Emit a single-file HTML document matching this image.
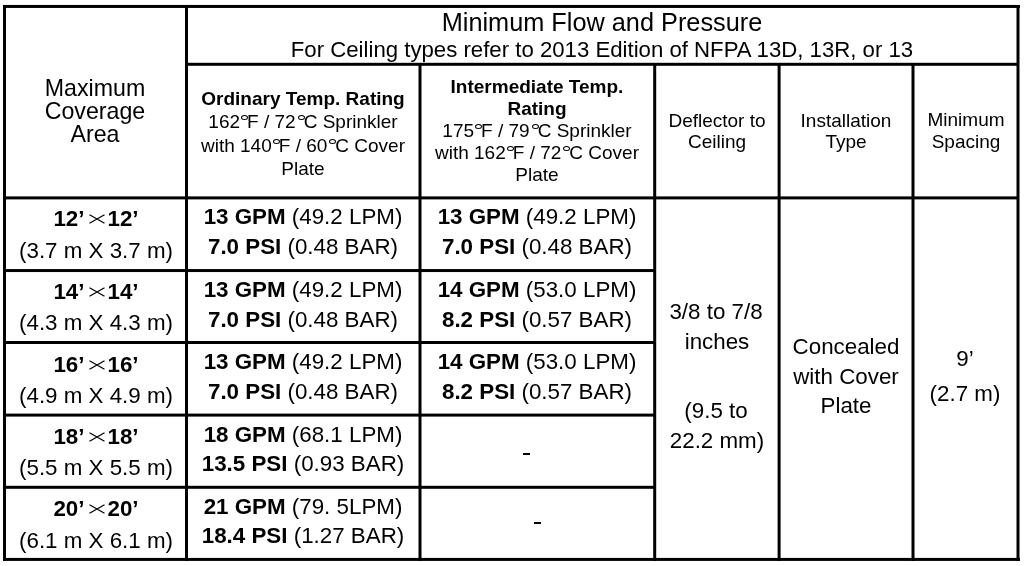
<!DOCTYPE html>
<html><head><meta charset="utf-8"><style>
html,body{margin:0;padding:0;background:#fff;}
body{width:1026px;height:566px;overflow:hidden;position:relative;font-family:"Liberation Sans",sans-serif;color:#000;}
.k{position:absolute;background:#000;}
.t{position:absolute;width:1000px;text-align:center;white-space:nowrap;line-height:1;will-change:transform;}
.t b{font-weight:700;}
.dg{display:inline-block;box-sizing:border-box;width:7px;height:5px;border:1.25px solid #000;border-radius:50%;vertical-align:8px;margin:0 -1px 0 1px;}
.dc{margin-left:2px;}
.x{display:inline-block;vertical-align:2px;margin:0 3px 0 4px;}
</style></head><body>
<div class="k" style="left:3px;top:5px;width:1px;height:556px;opacity:1.00"></div>
<div class="k" style="left:4px;top:5px;width:1px;height:556px;opacity:1.00"></div>
<div class="k" style="left:5px;top:5px;width:1px;height:556px;opacity:1.00"></div>
<div class="k" style="left:1016px;top:5px;width:1px;height:556px;opacity:0.50"></div>
<div class="k" style="left:1017px;top:5px;width:1px;height:556px;opacity:1.00"></div>
<div class="k" style="left:1018px;top:5px;width:1px;height:556px;opacity:1.00"></div>
<div class="k" style="left:1019px;top:5px;width:1px;height:556px;opacity:0.50"></div>
<div class="k" style="left:185px;top:5px;width:1px;height:556px;opacity:1.00"></div>
<div class="k" style="left:186px;top:5px;width:1px;height:556px;opacity:1.00"></div>
<div class="k" style="left:187px;top:5px;width:1px;height:556px;opacity:1.00"></div>
<div class="k" style="left:418px;top:64px;width:1px;height:497px;opacity:0.50"></div>
<div class="k" style="left:419px;top:64px;width:1px;height:497px;opacity:1.00"></div>
<div class="k" style="left:420px;top:64px;width:1px;height:497px;opacity:1.00"></div>
<div class="k" style="left:421px;top:64px;width:1px;height:497px;opacity:0.50"></div>
<div class="k" style="left:653px;top:64px;width:1px;height:497px;opacity:0.80"></div>
<div class="k" style="left:654px;top:64px;width:1px;height:497px;opacity:1.00"></div>
<div class="k" style="left:655px;top:64px;width:1px;height:497px;opacity:1.00"></div>
<div class="k" style="left:656px;top:64px;width:1px;height:497px;opacity:0.20"></div>
<div class="k" style="left:777px;top:64px;width:1px;height:497px;opacity:0.40"></div>
<div class="k" style="left:778px;top:64px;width:1px;height:497px;opacity:1.00"></div>
<div class="k" style="left:779px;top:64px;width:1px;height:497px;opacity:1.00"></div>
<div class="k" style="left:780px;top:64px;width:1px;height:497px;opacity:0.60"></div>
<div class="k" style="left:911px;top:64px;width:1px;height:497px;opacity:0.50"></div>
<div class="k" style="left:912px;top:64px;width:1px;height:497px;opacity:1.00"></div>
<div class="k" style="left:913px;top:64px;width:1px;height:497px;opacity:1.00"></div>
<div class="k" style="left:914px;top:64px;width:1px;height:497px;opacity:0.50"></div>
<div class="k" style="left:3px;top:4px;width:1017px;height:1px;opacity:0.05"></div>
<div class="k" style="left:3px;top:5px;width:1017px;height:1px;opacity:1.00"></div>
<div class="k" style="left:3px;top:6px;width:1017px;height:1px;opacity:1.00"></div>
<div class="k" style="left:3px;top:7px;width:1017px;height:1px;opacity:0.95"></div>
<div class="k" style="left:3px;top:557px;width:1017px;height:1px;opacity:0.08"></div>
<div class="k" style="left:3px;top:558px;width:1017px;height:1px;opacity:1.00"></div>
<div class="k" style="left:3px;top:559px;width:1017px;height:1px;opacity:1.00"></div>
<div class="k" style="left:3px;top:560px;width:1017px;height:1px;opacity:0.92"></div>
<div class="k" style="left:186px;top:62px;width:832px;height:1px;opacity:0.20"></div>
<div class="k" style="left:186px;top:63px;width:832px;height:1px;opacity:1.00"></div>
<div class="k" style="left:186px;top:64px;width:832px;height:1px;opacity:1.00"></div>
<div class="k" style="left:186px;top:65px;width:832px;height:1px;opacity:0.80"></div>
<div class="k" style="left:4px;top:196px;width:1014px;height:1px;opacity:0.60"></div>
<div class="k" style="left:4px;top:197px;width:1014px;height:1px;opacity:1.00"></div>
<div class="k" style="left:4px;top:198px;width:1014px;height:1px;opacity:1.00"></div>
<div class="k" style="left:4px;top:199px;width:1014px;height:1px;opacity:0.40"></div>
<div class="k" style="left:4px;top:269px;width:651px;height:1px;opacity:0.95"></div>
<div class="k" style="left:4px;top:270px;width:651px;height:1px;opacity:1.00"></div>
<div class="k" style="left:4px;top:271px;width:651px;height:1px;opacity:1.00"></div>
<div class="k" style="left:4px;top:272px;width:651px;height:1px;opacity:0.05"></div>
<div class="k" style="left:4px;top:341px;width:651px;height:1px;opacity:1.00"></div>
<div class="k" style="left:4px;top:342px;width:651px;height:1px;opacity:1.00"></div>
<div class="k" style="left:4px;top:343px;width:651px;height:1px;opacity:1.00"></div>
<div class="k" style="left:4px;top:413px;width:651px;height:1px;opacity:0.40"></div>
<div class="k" style="left:4px;top:414px;width:651px;height:1px;opacity:1.00"></div>
<div class="k" style="left:4px;top:415px;width:651px;height:1px;opacity:1.00"></div>
<div class="k" style="left:4px;top:416px;width:651px;height:1px;opacity:0.60"></div>
<div class="k" style="left:4px;top:485px;width:651px;height:1px;opacity:0.20"></div>
<div class="k" style="left:4px;top:486px;width:651px;height:1px;opacity:1.00"></div>
<div class="k" style="left:4px;top:487px;width:651px;height:1px;opacity:1.00"></div>
<div class="k" style="left:4px;top:488px;width:651px;height:1px;opacity:0.80"></div>
<div class="t" style="left:101.5px;top:9.600000000000001px;font-size:25.3px;font-weight:400">Minimum Flow and Pressure</div>
<div class="t" style="left:101.70000000000005px;top:38.8px;font-size:22.2px;font-weight:400">For Ceiling types refer to 2013 Edition of NFPA 13D, 13R, or 13</div>
<div class="t" style="left:-404.8px;top:76.76px;font-size:23.2px;font-weight:400">Maximum</div>
<div class="t" style="left:-404.8px;top:99.75px;font-size:23.2px;font-weight:400">Coverage</div>
<div class="t" style="left:-404.8px;top:123.30000000000001px;font-size:23.2px;font-weight:400">Area</div>
<div class="t" style="left:-197px;top:88.5px;font-size:19px;font-weight:700">Ordinary Temp. Rating</div>
<div class="t" style="left:-197.0px;top:112.30000000000001px;font-size:19px;font-weight:400">162<span class="dg"></span>F / 72<span class="dg dc"></span>C Sprinkler</div>
<div class="t" style="left:-196.8px;top:135.6px;font-size:19px;font-weight:400">with 140<span class="dg"></span>F / 60<span class="dg dc"></span>C Cover</div>
<div class="t" style="left:-196.89999999999998px;top:158.9px;font-size:19px;font-weight:400">Plate</div>
<div class="t" style="left:37.10000000000002px;top:76.7px;font-size:19px;font-weight:700">Intermediate Temp.</div>
<div class="t" style="left:37.10000000000002px;top:98.5px;font-size:19px;font-weight:700">Rating</div>
<div class="t" style="left:36.799999999999955px;top:121.4px;font-size:19px;font-weight:400">175<span class="dg"></span>F / 79<span class="dg dc"></span>C Sprinkler</div>
<div class="t" style="left:37.299999999999955px;top:142.6px;font-size:19px;font-weight:400">with 162<span class="dg"></span>F / 72<span class="dg dc"></span>C Cover</div>
<div class="t" style="left:37.10000000000002px;top:164.8px;font-size:19px;font-weight:400">Plate</div>
<div class="t" style="left:217px;top:110.6px;font-size:19px;font-weight:400">Deflector to</div>
<div class="t" style="left:217px;top:131.7px;font-size:19px;font-weight:400">Ceiling</div>
<div class="t" style="left:346px;top:110.6px;font-size:19px;font-weight:400">Installation</div>
<div class="t" style="left:346px;top:131.7px;font-size:19px;font-weight:400">Type</div>
<div class="t" style="left:465.5px;top:110.4px;font-size:19px;font-weight:400">Minimum</div>
<div class="t" style="left:465.5px;top:131.6px;font-size:19px;font-weight:400">Spacing</div>
<div class="t" style="left:-403.9px;top:208px;font-size:22.35px;font-weight:400"><b>12’</b><svg class="x" width="16" height="10" viewBox="0 0 16 10"><path d="M0.5 0.8 L15.5 9.2 M0.5 9.2 L15.5 0.8" stroke="#000" stroke-width="1.25" fill="none"/></svg><b>12’</b></div>
<div class="t" style="left:-404.25px;top:239.5px;font-size:22.35px;font-weight:400">(3.7 m X 3.7 m)</div>
<div class="t" style="left:-403.9px;top:281.2px;font-size:22.35px;font-weight:400"><b>14’</b><svg class="x" width="16" height="10" viewBox="0 0 16 10"><path d="M0.5 0.8 L15.5 9.2 M0.5 9.2 L15.5 0.8" stroke="#000" stroke-width="1.25" fill="none"/></svg><b>14’</b></div>
<div class="t" style="left:-404.25px;top:312.1px;font-size:22.35px;font-weight:400">(4.3 m X 4.3 m)</div>
<div class="t" style="left:-403.9px;top:353.8px;font-size:22.35px;font-weight:400"><b>16’</b><svg class="x" width="16" height="10" viewBox="0 0 16 10"><path d="M0.5 0.8 L15.5 9.2 M0.5 9.2 L15.5 0.8" stroke="#000" stroke-width="1.25" fill="none"/></svg><b>16’</b></div>
<div class="t" style="left:-404.25px;top:384.7px;font-size:22.35px;font-weight:400">(4.9 m X 4.9 m)</div>
<div class="t" style="left:-403.9px;top:425.8px;font-size:22.35px;font-weight:400"><b>18’</b><svg class="x" width="16" height="10" viewBox="0 0 16 10"><path d="M0.5 0.8 L15.5 9.2 M0.5 9.2 L15.5 0.8" stroke="#000" stroke-width="1.25" fill="none"/></svg><b>18’</b></div>
<div class="t" style="left:-404.25px;top:456.7px;font-size:22.35px;font-weight:400">(5.5 m X 5.5 m)</div>
<div class="t" style="left:-403.9px;top:498.20000000000005px;font-size:22.35px;font-weight:400"><b>20’</b><svg class="x" width="16" height="10" viewBox="0 0 16 10"><path d="M0.5 0.8 L15.5 9.2 M0.5 9.2 L15.5 0.8" stroke="#000" stroke-width="1.25" fill="none"/></svg><b>20’</b></div>
<div class="t" style="left:-404.25px;top:529.6px;font-size:22.35px;font-weight:400">(6.1 m X 6.1 m)</div>
<div class="t" style="left:-196.7px;top:206.1px;font-size:22.35px;font-weight:400"><b>13 GPM</b> (49.2 LPM)</div>
<div class="t" style="left:-196.7px;top:235.7px;font-size:22.35px;font-weight:400"><b>7.0 PSI</b> (0.48 BAR)</div>
<div class="t" style="left:-196.7px;top:278.75px;font-size:22.35px;font-weight:400"><b>13 GPM</b> (49.2 LPM)</div>
<div class="t" style="left:-196.7px;top:308.5px;font-size:22.35px;font-weight:400"><b>7.0 PSI</b> (0.48 BAR)</div>
<div class="t" style="left:-196.7px;top:351.4px;font-size:22.35px;font-weight:400"><b>13 GPM</b> (49.2 LPM)</div>
<div class="t" style="left:-196.7px;top:380.7px;font-size:22.35px;font-weight:400"><b>7.0 PSI</b> (0.48 BAR)</div>
<div class="t" style="left:-196.7px;top:424px;font-size:22.35px;font-weight:400"><b>18 GPM</b> (68.1 LPM)</div>
<div class="t" style="left:-196.7px;top:453.1px;font-size:22.35px;font-weight:400"><b>13.5 PSI</b> (0.93 BAR)</div>
<div class="t" style="left:-196.7px;top:496.20000000000005px;font-size:22.35px;font-weight:400"><b>21 GPM</b> (79. 5LPM)</div>
<div class="t" style="left:-196.7px;top:524.8px;font-size:22.35px;font-weight:400"><b>18.4 PSI</b> (1.27 BAR)</div>
<div class="t" style="left:37.200000000000045px;top:206.1px;font-size:22.35px;font-weight:400"><b>13 GPM</b> (49.2 LPM)</div>
<div class="t" style="left:36.89999999999998px;top:235.8px;font-size:22.35px;font-weight:400"><b>7.0 PSI</b> (0.48 BAR)</div>
<div class="t" style="left:37.200000000000045px;top:278.75px;font-size:22.35px;font-weight:400"><b>14 GPM</b> (53.0 LPM)</div>
<div class="t" style="left:36.89999999999998px;top:308.5px;font-size:22.35px;font-weight:400"><b>8.2 PSI</b> (0.57 BAR)</div>
<div class="t" style="left:37.200000000000045px;top:350.75px;font-size:22.35px;font-weight:400"><b>14 GPM</b> (53.0 LPM)</div>
<div class="t" style="left:36.89999999999998px;top:380.5px;font-size:22.35px;font-weight:400"><b>8.2 PSI</b> (0.57 BAR)</div>
<div class="k" style="left:523px;top:453px;width:7px;height:2px"></div>
<div class="k" style="left:534px;top:522px;width:7px;height:2px"></div>
<div class="t" style="left:215.60000000000002px;top:301.1px;font-size:22.35px;font-weight:400">3/8 to 7/8</div>
<div class="t" style="left:216.89999999999998px;top:330.6px;font-size:22.35px;font-weight:400">inches</div>
<div class="t" style="left:216.45000000000005px;top:399.7px;font-size:22.35px;font-weight:400">(9.5 to</div>
<div class="t" style="left:216.60000000000002px;top:429.75px;font-size:22.35px;font-weight:400">22.2 mm)</div>
<div class="t" style="left:345.79999999999995px;top:336.2px;font-size:22.35px;font-weight:400">Concealed</div>
<div class="t" style="left:345.9px;top:365.9px;font-size:22.35px;font-weight:400">with Cover</div>
<div class="t" style="left:345.9px;top:394.5px;font-size:22.35px;font-weight:400">Plate</div>
<div class="t" style="left:465px;top:348.2px;font-size:22.35px;font-weight:400">9’</div>
<div class="t" style="left:465.35px;top:382.8px;font-size:22.35px;font-weight:400">(2.7 m)</div>
</body></html>
